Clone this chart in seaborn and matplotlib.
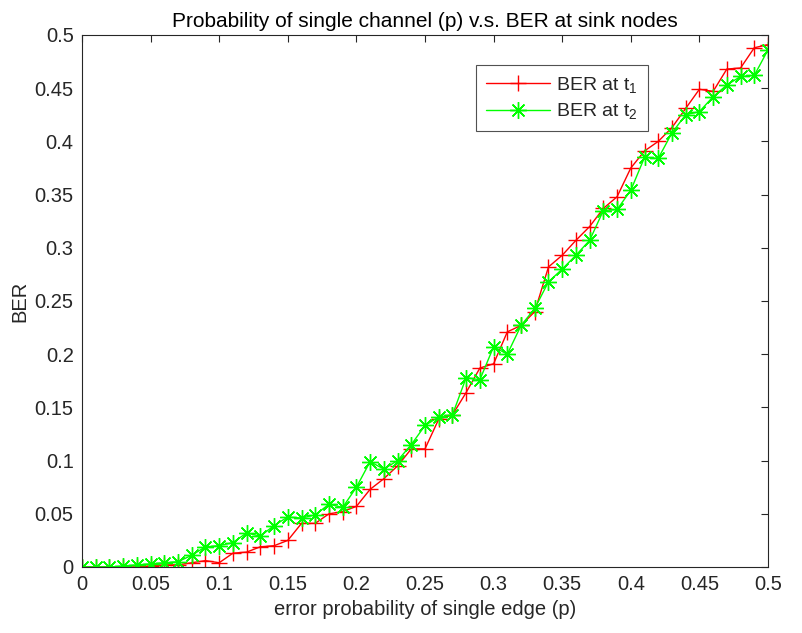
import numpy as np
import pandas as pd
import seaborn as sns
import matplotlib.pyplot as plt
from matplotlib.ticker import FuncFormatter, MultipleLocator

# error probability of single edge
p = [round(0.01 * i, 2) for i in range(51)]

# BER at sink t1 (red, '+')
ber_t1 = [0, 0, 0, 0, 0, 0.001, 0.002, 0.002, 0.004, 0.006,
          0.004, 0.013, 0.014, 0.019, 0.020, 0.025, 0.041, 0.041, 0.050, 0.052,
          0.057, 0.073, 0.083, 0.095, 0.111, 0.111, 0.139, 0.143, 0.164, 0.187,
          0.191, 0.221, 0.227, 0.240, 0.282, 0.293, 0.307, 0.320, 0.337, 0.348,
          0.375, 0.391, 0.400, 0.413, 0.431, 0.449, 0.447, 0.468, 0.469, 0.488,
          0.491]

# BER at sink t2 (green, '*')
ber_t2 = [0, 0, 0, 0.001, 0.002, 0.003, 0.004, 0.005, 0.011, 0.019,
          0.020, 0.023, 0.032, 0.029, 0.039, 0.047, 0.046, 0.049, 0.059, 0.056,
          0.075, 0.099, 0.092, 0.100, 0.115, 0.133, 0.141, 0.143, 0.178, 0.176,
          0.207, 0.200, 0.227, 0.243, 0.268, 0.280, 0.293, 0.307, 0.335, 0.336,
          0.354, 0.385, 0.384, 0.408, 0.425, 0.428, 0.442, 0.453, 0.461, 0.462,
          0.486]

sns.set_style("white")
plt.rcParams['font.family'] = ['Liberation Sans', 'DejaVu Sans']
plt.rcParams['mathtext.fontset'] = 'custom'
plt.rcParams['mathtext.rm'] = 'Liberation Sans'
plt.rcParams['mathtext.it'] = 'Liberation Sans'
plt.rcParams['mathtext.default'] = 'regular'

dark = (0.15, 0.15, 0.15)
red = (1, 0, 0)
green = (0, 1, 0)

df = pd.DataFrame({'p': p, 't1': ber_t1, 't2': ber_t2})

fig = plt.figure(figsize=(8.03, 6.33), dpi=100)
ax = fig.add_axes([82 / 803, 1 - 567 / 633, 686 / 803, 532 / 633])

sns.lineplot(data=df, x='p', y='t1', ax=ax, color=red, marker='+',
             markersize=12, markeredgewidth=1.0, markeredgecolor=red,
             linewidth=1.0, label='BER at t$_1$')
sns.lineplot(data=df, x='p', y='t2', ax=ax, color=green, marker=(8, 2, 0),
             markersize=12, markeredgewidth=1.0, markeredgecolor=green,
             linewidth=1.0, label='BER at t$_2$')

ax.set_xlim(0, 0.5)
ax.set_ylim(0, 0.5)
ax.xaxis.set_major_locator(MultipleLocator(0.05))
ax.yaxis.set_major_locator(MultipleLocator(0.05))
fmt = FuncFormatter(lambda v, pos: '%g' % round(v, 2))
ax.xaxis.set_major_formatter(fmt)
ax.yaxis.set_major_formatter(fmt)

ax.tick_params(direction='in', length=5, width=0.8, colors=dark,
               labelsize=14.5, top=True, right=True, pad=6)
for s in ax.spines.values():
    s.set_color(dark)
    s.set_linewidth(0.8)

ax.set_xlabel('error probability of single edge (p)', fontsize=14.5, color=dark)
ax.set_ylabel('BER', fontsize=14.5, color=dark)
ax.set_title('Probability of single channel (p) v.s. BER at sink nodes',
             fontsize=15, color='black', pad=6)

leg = ax.legend(loc='upper left', bbox_to_anchor=(0.575, 0.944),
                borderaxespad=0, fontsize=14, frameon=True, fancybox=False,
                handlelength=3.3, handletextpad=0.3, borderpad=0.5,
                labelspacing=0.35)
leg.get_frame().set_edgecolor(dark)
leg.get_frame().set_linewidth(0.8)

fig.savefig('out.png', dpi=100)
